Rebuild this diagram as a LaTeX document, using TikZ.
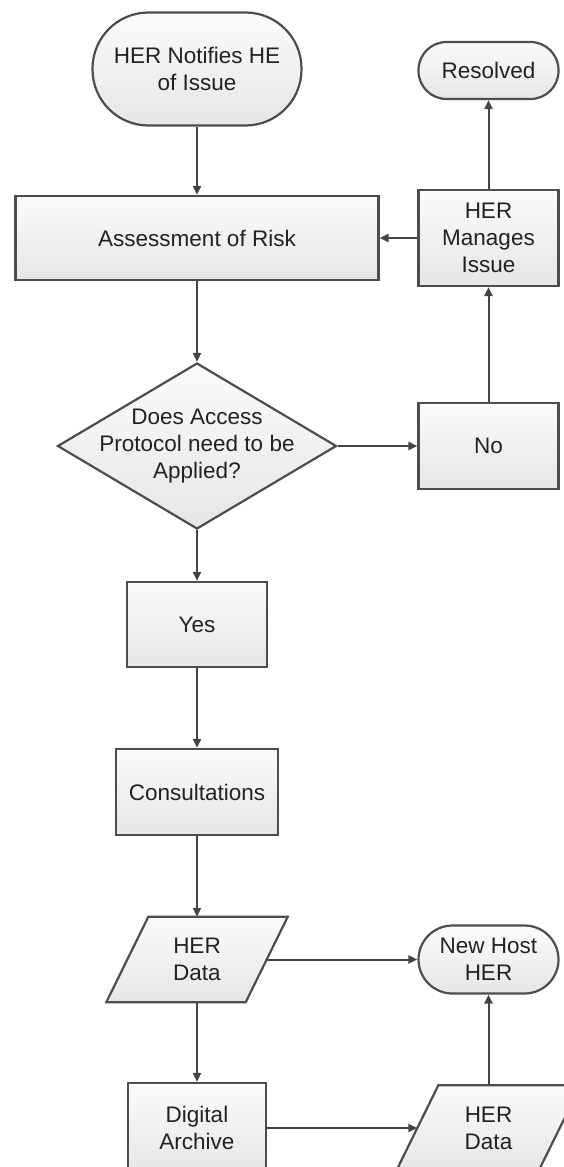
\documentclass[tikz,border=0pt]{standalone}
\usepackage{fontspec}
\setmainfont{Liberation Sans}
\usetikzlibrary{arrows.meta,shapes.geometric,backgrounds,calc}
\definecolor{edgec}{HTML}{4D4D4D}
\definecolor{linec}{HTML}{444444}
\definecolor{txtc}{HTML}{222222}
\definecolor{ftop}{HTML}{FBFBFB}
\definecolor{fbot}{HTML}{E6E6E6}
\begin{document}
\begin{tikzpicture}[x=1pt,y=-1pt,
  every node/.style={font=\fontsize{22.5}{27}\selectfont, text=txtc, align=center, inner sep=0pt},
  base/.style={draw=edgec, line width=2.2pt, top color=ftop, bottom color=fbot},
  proc/.style={base, rectangle, minimum width=#1},
  proc/.default=140pt,
  term/.style={base, rectangle, rounded corners=#1},
  iobox/.style={rectangle, minimum height=85pt},
  conn/.style={draw=linec, line width=2pt, -{Triangle[length=9pt,width=8pt]}}
]
\useasboundingbox (0,0) rectangle (563,1167);
\clip (0,0) rectangle (563,1167);

% left column
\node[term=56pt, minimum width=209pt, minimum height=113pt] (start) at (197,69) {HER Notifies HE\\of Issue};
\node[proc=363pt, minimum height=84pt] (assess) at (197,238) {Assessment of Risk};
\node[base, diamond, minimum width=279pt, minimum height=166pt] (dec) at (197,446) {};
\node (dect) at (dec.center) {Does Access\\Protocol need to be\\Applied?};
\node[proc, minimum height=85pt] (yes) at (197,624.5) {Yes};
\node[proc=162pt, minimum height=86pt] (consult) at (197,792) {Consultations};
\node[iobox, minimum width=139pt] (data1) at (197,959.5) {HER\\Data};
\node[proc=138pt, minimum height=90pt] (archive) at (197,1128) {Digital\\Archive};

% right column
\node[term=28pt, minimum width=140pt, minimum height=57pt] (resolved) at (488.5,70.5) {Resolved};
\node[proc, minimum height=96pt] (manages) at (488.5,238) {HER\\Manages\\Issue};
\node[proc, minimum height=86pt] (no) at (488.5,446) {No};
\node[term=34pt, minimum width=140pt, minimum height=68pt] (newhost) at (488.5,959.5) {New Host\\HER};
\node[iobox, minimum width=142pt] (data2) at (488.5,1128) {HER\\Data};

% parallelogram outlines
\begin{scope}[on background layer]
  \path[base] ($(data1.south west)+(-21,0)$) -- ($(data1.north west)+(21,0)$) -- ($(data1.north east)+(21,0)$) -- ($(data1.south east)+(-21,0)$) -- cycle;
  \path[base] ($(data2.south west)+(-21,0)$) -- ($(data2.north west)+(21,0)$) -- ($(data2.north east)+(21,0)$) -- ($(data2.south east)+(-21,0)$) -- cycle;
\end{scope}

% connectors
\draw[conn] (start.south) -- (assess.north);
\draw[conn] (assess.south) -- (dec.north);
\draw[conn] (dec.east) -- (no.west);
\draw[conn] (no.north) -- (manages.south);
\draw[conn] (manages.west) -- (assess.east);
\draw[conn] (manages.north) -- (resolved.south);
\draw[conn] (dec.south) -- (yes.north);
\draw[conn] (yes.south) -- (consult.north);
\draw[conn] (consult.south) -- (data1.north);
\draw[conn] (data1.east) -- (newhost.west);
\draw[conn] (data1.south) -- (archive.north);
\draw[conn] (archive.east) -- (data2.west);
\draw[conn] (data2.north) -- (newhost.south);
\end{tikzpicture}
\end{document}
